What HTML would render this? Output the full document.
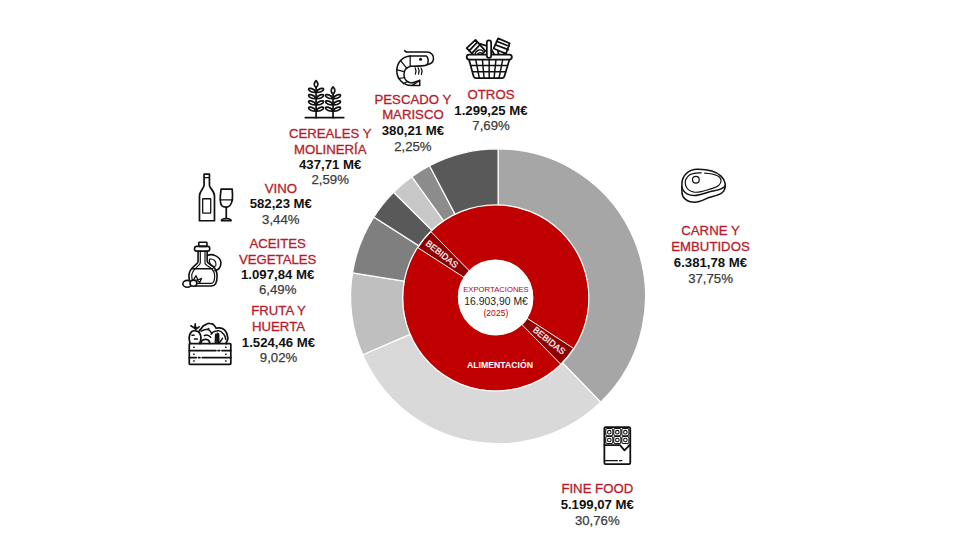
<!DOCTYPE html>
<html><head><meta charset="utf-8"><style>
html,body{margin:0;padding:0;background:#fff;width:980px;height:560px;overflow:hidden}
svg{display:block;font-family:"Liberation Sans",sans-serif}
.lr{font-size:13.2px;fill:#b51d2b;stroke:#b51d2b;stroke-width:0.3px;text-anchor:middle}
.lb{font-size:13.2px;fill:#111;font-weight:bold;text-anchor:middle}
.lp{font-size:13.2px;fill:#3c3c3c;stroke:#3c3c3c;stroke-width:0.25px;text-anchor:middle}
.c1{font-size:7.7px;fill:#c00000;text-anchor:middle}
.c2{font-size:10.4px;fill:#222;text-anchor:middle}
.c3{font-size:8.6px;fill:#c00000;text-anchor:middle}
.al{font-size:8.7px;fill:#fff;font-weight:bold;text-anchor:middle}
.bb{font-size:8.9px;fill:#fff;stroke:#fff;stroke-width:0.2px;text-anchor:middle}
</style></head><body>
<svg width="980" height="560" viewBox="0 0 980 560">
<path d="M498.10,148.85 A147.45,147.45 0 0 1 600.69,402.21 L557.93,358.07 A86.0,86.0 0 0 0 498.10,210.30 Z" fill="#a6a6a6" stroke="#fff" stroke-width="1.2"/><path d="M600.69,402.21 A147.45,147.45 0 0 1 362.72,354.72 L419.14,330.37 A86.0,86.0 0 0 0 557.93,358.07 Z" fill="#d9d9d9" stroke="#fff" stroke-width="1.2"/><path d="M362.72,354.72 A147.45,147.45 0 0 1 352.52,272.89 L413.19,282.65 A86.0,86.0 0 0 0 419.14,330.37 Z" fill="#bfbfbf" stroke="#fff" stroke-width="1.2"/><path d="M352.52,272.89 A147.45,147.45 0 0 1 373.75,217.07 L425.57,250.09 A86.0,86.0 0 0 0 413.19,282.65 Z" fill="#7f7f7f" stroke="#fff" stroke-width="1.2"/><path d="M373.75,217.07 A147.45,147.45 0 0 1 393.63,192.24 L437.17,235.61 A86.0,86.0 0 0 0 425.57,250.09 Z" fill="#595959" stroke="#fff" stroke-width="1.2"/><path d="M393.63,192.24 A147.45,147.45 0 0 1 411.87,176.69 L447.81,226.54 A86.0,86.0 0 0 0 437.17,235.61 Z" fill="#c8c8c8" stroke="#fff" stroke-width="1.2"/><path d="M411.87,176.69 A147.45,147.45 0 0 1 429.59,165.73 L458.14,220.15 A86.0,86.0 0 0 0 447.81,226.54 Z" fill="#8c8c8c" stroke="#fff" stroke-width="1.2"/><path d="M429.59,165.73 A147.45,147.45 0 0 1 498.10,148.85 L498.10,210.30 A86.0,86.0 0 0 0 458.14,220.15 Z" fill="#595959" stroke="#fff" stroke-width="1.2"/>
<circle cx="495.8" cy="297.9" r="65.1" fill="none" stroke="#c00000" stroke-width="54.99999999999999"/><circle cx="495.8" cy="297.9" r="93.1" fill="none" stroke="#fff" stroke-width="1.2"/><path d="M573.46,348.33 A92.6,92.6 0 0 1 560.59,364.06 L522.11,324.76 A37.6,37.6 0 0 0 527.33,318.38 Z" fill="#8e0000" stroke="#fff" stroke-width="1"/><path d="M417.96,247.74 A92.6,92.6 0 0 1 431.01,231.74 L469.49,271.04 A37.6,37.6 0 0 0 464.19,277.53 Z" fill="#8e0000" stroke="#fff" stroke-width="1"/>
<circle cx="495.4" cy="297.0" r="37.6" fill="#fff"/>
<text x="496" y="292.4" class="c1">EXPORTACIONES</text>
<text x="496.1" y="304.5" class="c2">16.903,90 M€</text>
<text x="495.9" y="315.6" class="c3">(2025)</text>
<text x="500" y="367.6" class="al">ALIMENTACIÓN</text>
<text class="bb" transform="translate(441.9,254.0) rotate(38.5)" x="0" y="3.1">BEBIDAS</text>
<text class="bb" transform="translate(549.2,340.6) rotate(38.5)" x="0" y="3.1">BEBIDAS</text>

<text x="710.5" y="235.25" class="lr">CARNE Y</text>
<text x="710.5" y="251.25" class="lr">EMBUTIDOS</text>
<text x="710.5" y="266.9" class="lb">6.381,78 M€</text>
<text x="710.5" y="282.5" class="lp">37,75%</text>
<text x="597.3" y="493.2" class="lr">FINE FOOD</text>
<text x="597.3" y="509.3" class="lb">5.199,07 M€</text>
<text x="597.3" y="524.8" class="lp">30,76%</text>
<text x="278.5" y="315.1" class="lr">FRUTA Y</text>
<text x="278.5" y="331.1" class="lr">HUERTA</text>
<text x="278.5" y="346.5" class="lb">1.524,46 M€</text>
<text x="278.5" y="361.9" class="lp">9,02%</text>
<text x="277.7" y="247.5" class="lr">ACEITES</text>
<text x="277.7" y="263.5" class="lr">VEGETALES</text>
<text x="277.7" y="279.0" class="lb">1.097,84 M€</text>
<text x="277.7" y="294.4" class="lp">6,49%</text>
<text x="280.8" y="192.7" class="lr">VINO</text>
<text x="280.8" y="207.9" class="lb">582,23 M€</text>
<text x="280.8" y="223.6" class="lp">3,44%</text>
<text x="330.2" y="137.5" class="lr">CEREALES Y</text>
<text x="330.2" y="153.75" class="lr">MOLINERÍA</text>
<text x="330.2" y="168.75" class="lb">437,71 M€</text>
<text x="330.2" y="184.4" class="lp">2,59%</text>
<text x="412.9" y="103.75" class="lr">PESCADO Y</text>
<text x="412.9" y="119.4" class="lr">MARISCO</text>
<text x="412.9" y="135.0" class="lb">380,21 M€</text>
<text x="412.9" y="150.6" class="lp">2,25%</text>
<text x="491.0" y="98.75" class="lr">OTROS</text>
<text x="491.0" y="114.8" class="lb">1.299,25 M€</text>
<text x="491.0" y="130.4" class="lp">7,69%</text>
<g fill="none" stroke="#111" stroke-linecap="round" stroke-linejoin="round">
<!-- meat -->
<g transform="translate(670,160) scale(0.08039)" stroke-width="19">
<path d="M148,300 C148,190 230,118 340,116 C450,114 570,140 635,200 C695,255 700,335 670,385 C640,430 580,445 510,460 C440,475 390,525 305,525 C205,525 150,465 148,400 Z"/>
<path d="M148,335 C165,415 240,450 330,440 C410,430 470,395 550,382 C610,372 665,360 688,318"/>
<path d="M388,160 C300,155 220,175 195,245 C175,320 215,385 300,400 C380,410 450,375 530,352 C590,335 632,315 635,262 C638,205 555,172 432,164" stroke-width="15"/>
<circle cx="322" cy="245" r="42" stroke-width="15"/>
</g>
<!-- chocolate -->
<g transform="translate(595,420) scale(0.08929)" stroke-width="20">
<rect x="105" y="80" width="290" height="415" rx="15"/>
<g stroke-width="12">
<rect x="120" y="96" width="80" height="80" rx="18"/><rect x="210" y="96" width="80" height="80" rx="18"/><rect x="300" y="96" width="80" height="80" rx="18"/>
<rect x="120" y="184" width="80" height="80" rx="18"/><rect x="210" y="184" width="80" height="80" rx="18"/><rect x="300" y="184" width="80" height="80" rx="18"/>
<circle cx="160" cy="136" r="20"/><circle cx="250" cy="136" r="20"/><circle cx="340" cy="136" r="20"/>
<circle cx="160" cy="224" r="20"/><circle cx="250" cy="224" r="20"/><circle cx="340" cy="224" r="20"/>
</g>
<path d="M105,282 H280 L330,340 L385,284"/>
<path d="M370,282 L395,300 V280 Z" fill="#111" stroke-width="6"/>
<path d="M118,455 H250 M275,455 H300" stroke-width="15"/>
</g>
<!-- crate -->
<g transform="translate(180,310) scale(0.116)" stroke-width="15">
<rect x="80" y="290" width="358" height="178" rx="6"/>
<path d="M80,350 H310 M328,350 H342 M362,350 H438 M80,410 H140 M160,410 H172 M192,410 H438"/>
<path d="M118,322 h4 M393,322 h4 M118,382 h4 M393,382 h4 M118,440 h4 M393,440 h4" stroke-width="13"/>
<path d="M87,288 C78,260 76,215 98,189 C110,178 125,178 135,180 C150,182 162,188 168,198 C180,215 183,240 177,267 L168,288"/>
<path d="M103,217 H122 M124,251 H150" stroke-width="13"/>
<path d="M94,136 L131,161 M131,120 V161 M165,145 L135,166" stroke-width="14"/>
<ellipse cx="131" cy="150" rx="9" ry="13" fill="#111" stroke-width="8"/>
<path d="M168,180 C172,170 176,165 182,161 C195,140 205,132 218,129 C230,118 245,113 256,115 C275,116 287,122 292,129 C302,140 308,148 311,157 C322,153 330,153 339,154 C355,156 368,160 376,166 C390,175 396,185 399,194 C405,205 408,212 408,221 C412,235 413,242 412,249 C410,262 405,272 399,281 L399,290"/>
<path d="M182,182 C200,172 220,166 237,166 C250,168 258,178 265,189 C270,195 272,200 274,203" stroke-width="13"/>
<circle cx="246" cy="161" r="4" fill="#111" stroke-width="6"/>
<path d="M269,208 C278,196 290,187 302,184 C315,180 328,178 339,180 C350,184 360,190 366,198 C375,207 382,214 385,221 C390,232 393,243 394,254" stroke-width="13"/>
<path d="M177,288 C182,272 188,262 196,258 C208,252 220,252 228,254 C238,256 246,260 251,267 C255,274 256,280 256,288"/>
<path d="M209,221 C218,217 228,215 237,217 C250,220 258,228 265,235" stroke-width="13"/>
<path d="M305,286 L308,210 M320,286 L322,200 M335,286 L332,205" stroke-width="14"/>
<path d="M339,286 L366,244" stroke-width="13"/>
</g>
<!-- oil jug -->
<g transform="translate(175,235) scale(0.10718)" stroke-width="15">
<rect x="222" y="68" width="76" height="38" rx="6"/>
<rect x="182" y="106" width="142" height="44" rx="20"/>
<path d="M215,150 V252 C215,275 130,300 130,380 C130,440 150,476 210,476 H340 C380,476 393,440 393,380 C393,330 362,292 322,270 C306,262 300,255 300,245 V150"/>
<path d="M236,150 V262 C236,287 156,312 156,382 C156,430 172,452 215,452 H335 C363,452 370,430 370,382 C370,332 342,307 302,287 C287,279 280,270 280,262 V150" stroke-width="11"/>
<path d="M163,315 H352"/>
<path d="M302,192 C342,168 428,200 428,262 C428,302 402,327 372,333"/>
<path d="M325,225 C362,218 388,248 382,282 C372,302 345,296 330,272 C320,256 315,240 325,225 Z" stroke-width="11"/>
<ellipse cx="115" cy="455" rx="42" ry="32" fill="#fff"/>
<ellipse cx="172" cy="450" rx="32" ry="28" fill="#fff"/>
<path d="M172,418 L197,380 L215,422 Z M207,422 L247,405 L232,442 Z" fill="#fff" stroke-width="12"/>
</g>
<!-- wine -->
<g transform="translate(185,165) scale(0.10718)" stroke-width="16">
<path d="M178,85 H228 V190 C228,215 275,240 275,290 V520 H135 V290 C135,240 178,215 178,190 Z"/>
<path d="M178,118 H228" stroke-width="11"/>
<rect x="165" y="315" width="75" height="135" rx="4" stroke-width="12"/>
<path d="M337,225 H440 C447,290 450,345 420,378 C400,398 360,398 342,378 C318,345 328,290 337,225 Z"/>
<path d="M328,325 H446" stroke-width="12"/>
<path d="M385,395 V495"/>
<path d="M340,520 C345,495 425,495 430,520 Z"/>
</g>
<!-- wheat -->
<g transform="translate(300,75) scale(0.08929)" stroke-width="19">
<path d="M60,478 H490"/>
<path d="M180,140 V478 M370,212 V478"/>
<path d="M180,62 C205,85 210,120 180,140 C150,120 155,85 180,62 Z"/>
<path d="M370,134 C395,157 400,192 370,212 C340,192 345,157 370,134 Z"/>
<g><path d="M180,194 C148,198 96,184 96,160 C96,140 162,148 180,194 Z M180,194 C212,198 264,184 264,160 C264,140 198,148 180,194 Z"/></g><g transform="translate(0,70)"><path d="M180,194 C148,198 96,184 96,160 C96,140 162,148 180,194 Z M180,194 C212,198 264,184 264,160 C264,140 198,148 180,194 Z"/></g><g transform="translate(0,140)"><path d="M180,194 C148,198 96,184 96,160 C96,140 162,148 180,194 Z M180,194 C212,198 264,184 264,160 C264,140 198,148 180,194 Z"/></g><g transform="translate(0,210)"><path d="M180,194 C148,198 96,184 96,160 C96,140 162,148 180,194 Z M180,194 C212,198 264,184 264,160 C264,140 198,148 180,194 Z"/></g><g transform="translate(190,70)"><path d="M180,194 C148,198 96,184 96,160 C96,140 162,148 180,194 Z M180,194 C212,198 264,184 264,160 C264,140 198,148 180,194 Z"/></g><g transform="translate(190,140)"><path d="M180,194 C148,198 96,184 96,160 C96,140 162,148 180,194 Z M180,194 C212,198 264,184 264,160 C264,140 198,148 180,194 Z"/></g><g transform="translate(190,210)"><path d="M180,194 C148,198 96,184 96,160 C96,140 162,148 180,194 Z M180,194 C212,198 264,184 264,160 C264,140 198,148 180,194 Z"/></g>


</g>
<!-- shrimp -->
<g transform="translate(385,40) scale(0.08929)" stroke-width="17">
<path d="M222,118 C222,132 235,135 255,135 H465 C522,135 548,172 543,215 C538,252 505,272 470,275"/>
<path d="M282,178 H462 C488,198 492,250 468,280 C440,292 330,294 290,295"/>
<path d="M282,178 C190,185 132,258 132,345 C132,432 198,505 300,510 L388,452 L390,510 L300,510"/>
<path d="M290,295 C240,305 212,345 212,392 C212,440 248,478 300,482 L388,452"/>
<path d="M282,178 V295 M172,228 L245,318 M136,335 L214,355 M150,432 L222,420 M205,490 L252,466" stroke-width="14"/>
<path d="M338,312 C350,335 350,360 340,382 M372,312 C385,335 385,360 375,382 M405,315 C418,338 418,363 408,385" stroke-width="14"/>
<circle cx="398" cy="215" r="17" fill="#111" stroke="none"/>
</g>
<!-- basket -->
<g transform="translate(460,30) scale(0.09823)" stroke-width="18">
<path d="M68,185 L158,100 L258,212 L175,292 Z M92,212 L170,132 M118,240 L192,162" />
<path d="M150,250 C160,205 205,190 235,215 M175,255 C185,230 205,225 220,235" stroke-width="14"/>
<path d="M343,188 L388,85 L505,135 L468,242 Z M358,150 L492,200 M372,115 L500,165"/>
<path d="M318,195 L352,255 M198,138 L272,162 M385,215 L395,250 M445,230 L450,252"/>
<rect x="68" y="250" width="460" height="52" rx="26" fill="#fff"/>
<rect x="273" y="105" width="44" height="178" rx="22" fill="#fff"/>
<path d="M92,302 L138,470 C142,485 150,490 165,490 H425 C440,490 448,485 452,470 L503,302"/>
<path d="M110,362 H485 M128,425 H467" stroke-width="15"/>
<path d="M160,302 L197,490 M228,302 L245,490 M297,302 L297,490 M366,302 L347,490 M435,302 L397,490" stroke-width="15"/>
</g>
</g>

</svg>
</body></html>
